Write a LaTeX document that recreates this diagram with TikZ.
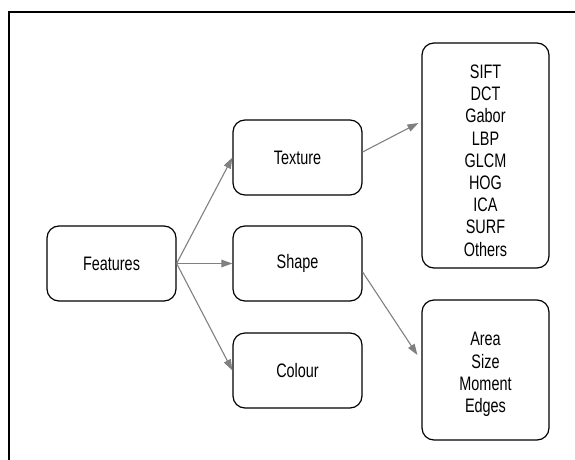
\documentclass[tikz,border=0pt]{standalone}
\usepackage{fontspec}
\setmainfont[FakeStretch=0.74]{Liberation Sans}
\usetikzlibrary{arrows.meta}
\begin{document}
\begin{tikzpicture}[x=1pt,y=-1pt,
  box/.style={draw=black,line width=1.2pt,rounded corners=12pt,align=center,
    inner sep=0pt,font=\fontsize{19.5}{22.3}\selectfont},
  txt/.style={align=center,inner sep=0pt,font=\fontsize{19.5}{22.2}\selectfont},
  conn/.style={draw={rgb,255:red,128;green,128;blue,128},line width=1.1pt,
    -{Triangle[length=11pt,width=7.5pt]}}]
\useasboundingbox (0,0) rectangle (575,460);
\draw[line width=1.4pt] (9,460) -- (9,12) -- (575,12);
\node[box,minimum width=129pt,minimum height=75pt] (features) at (111.5,263.5) {Features};
\node[box,minimum width=129pt,minimum height=75pt] (texture) at (297.5,157.5) {Texture};
\node[box,minimum width=129pt,minimum height=75pt] (shape) at (297.5,263.5) {Shape};
\node[box,minimum width=129pt,minimum height=75pt] (colour) at (297.5,370.5) {Colour};
\node[box,minimum width=127pt,minimum height=225pt] (sift) at (485.5,155.5) {};
\node[txt] (siftlist) at (485.5,160.5) {SIFT\\DCT\\Gabor\\LBP\\GLCM\\HOG\\ICA\\SURF\\Others};
\node[box,minimum width=127pt,minimum height=140pt] (area) at (485.5,370) {};
\node[txt] (arealist) at (485.5,374.5) {Area\\Size\\Moment\\Edges};
\draw[conn] (features.east) -- (texture.west);
\draw[conn] (features.east) -- (shape.west);
\draw[conn] (features.east) -- (colour.west);
\draw[conn] ([yshift=5.5pt]texture.east) -- ([yshift=32.5pt,xshift=-3pt]sift.west);
\draw[conn] ([yshift=-8.5pt]shape.east) -- ([yshift=15pt,xshift=-4pt]area.west);
\end{tikzpicture}
\end{document}
